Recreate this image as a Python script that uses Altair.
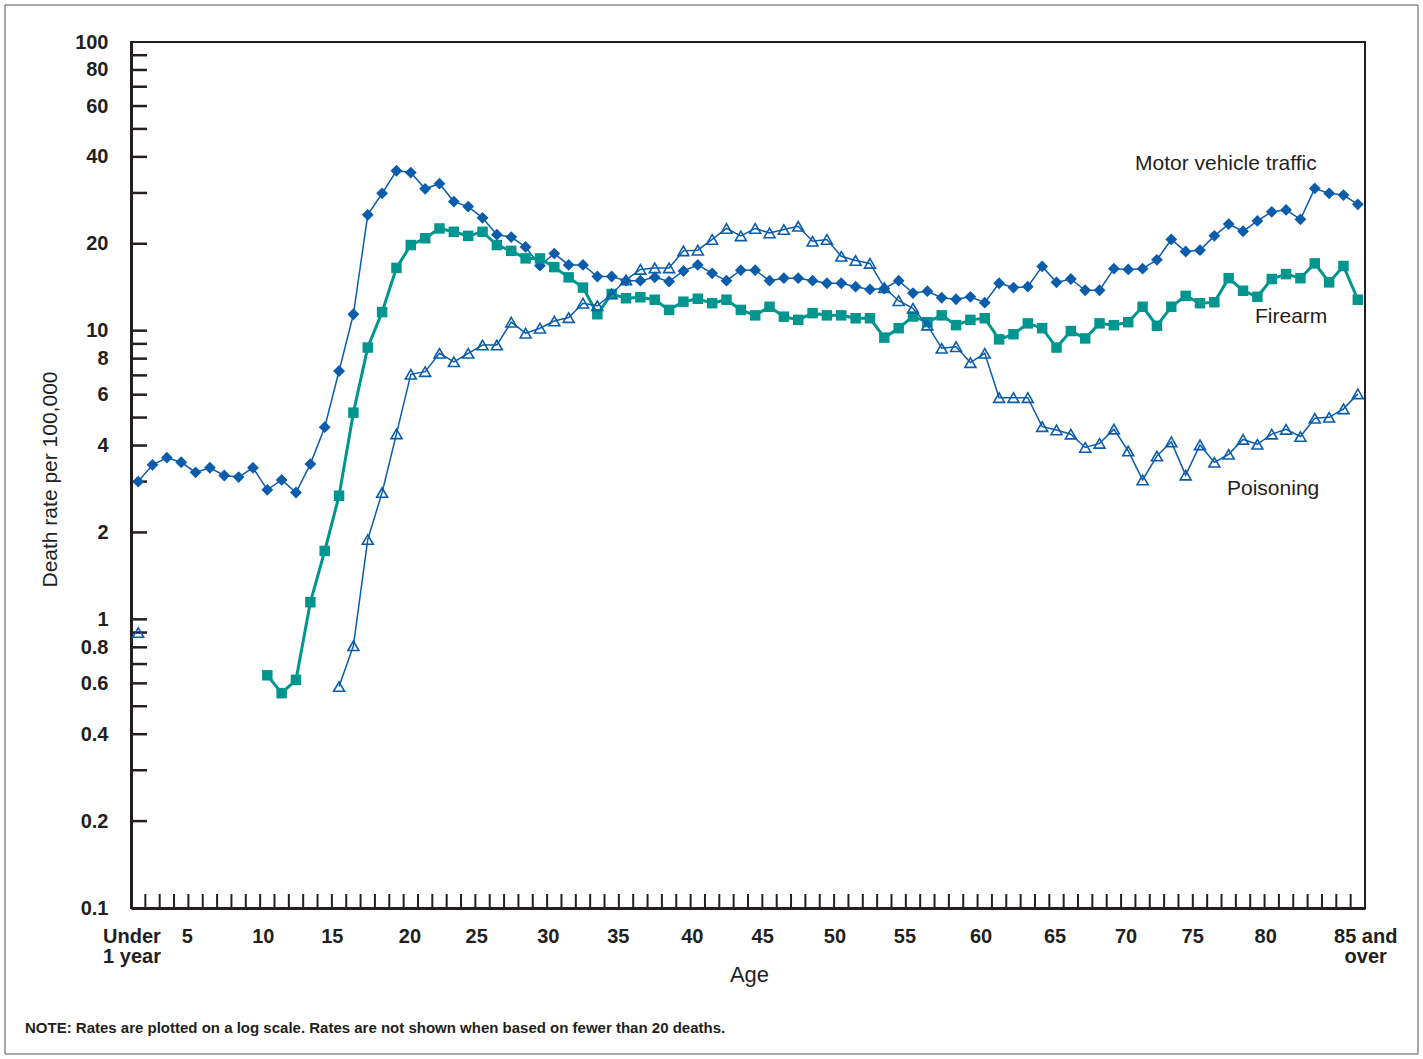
import altair as alt
import pandas as pd

# ---------------- data ----------------
# age index: 0 = "Under 1 year", 1..84 = single years, 85 = "85 and over"
ages = list(range(86))

motor_vehicle = [3.0, 3.43, 3.63, 3.50, 3.23, 3.35, 3.15, 3.11, 3.35, 2.81,
                 3.04, 2.75, 3.45, 4.63, 7.25, 11.4, 25.2, 29.9, 35.8, 35.3,
                 31.0, 32.3, 28.0, 26.9, 24.6, 21.5, 21.1, 19.5, 16.8, 18.5,
                 16.9, 16.9, 15.4, 15.4, 14.9, 14.9, 15.3, 14.8, 16.1, 16.9,
                 15.8, 14.9, 16.2, 16.2, 14.9, 15.2, 15.2, 14.9, 14.6, 14.6,
                 14.2, 13.9, 14.0, 14.9, 13.5, 13.7, 13.0, 12.85, 13.1, 12.5,
                 14.6, 14.1, 14.2, 16.7, 14.7, 15.1, 13.8, 13.8, 16.4, 16.3,
                 16.4, 17.6, 20.7, 18.8, 19.0, 21.3, 23.4, 22.1, 24.0, 25.8,
                 26.2, 24.3, 31.1, 29.9, 29.5, 27.4]

firearm = [None] * 9 + [
    0.64, 0.555, 0.617, 1.146, 1.725, 2.68, 5.2, 8.74, 11.6, 16.5, 19.8,
    20.9, 22.6, 22.0, 21.3, 22.0, 19.8, 18.9, 17.8, 17.8, 16.6,
    15.3, 14.1, 11.4, 13.4, 12.95, 13.05, 12.8, 11.8, 12.6, 12.9,
    12.45, 12.8, 11.8, 11.3, 12.1, 11.18, 10.9, 11.5, 11.3, 11.3,
    11.04, 11.04, 9.46, 10.2, 11.2, 10.7, 11.3, 10.45, 10.9, 11.04,
    9.33, 9.72, 10.6, 10.2, 8.74, 9.97, 9.4, 10.6, 10.45, 10.7,
    12.1, 10.4, 12.1, 13.2, 12.45, 12.55, 15.2, 13.75, 13.1, 15.1,
    15.7, 15.2, 17.1, 14.7, 16.75, 12.8]

poisoning = [0.9] + [None] * 13 + [
    0.585, 0.81, 1.89, 2.75, 4.39, 7.06,
    7.21, 8.35, 7.8, 8.35, 8.92, 8.92, 10.7, 9.8, 10.2, 10.8,
    11.1, 12.45, 12.2, 13.4, 15.0, 16.3, 16.5, 16.5, 18.9, 19.0,
    20.7, 22.6, 21.3, 22.6, 21.8, 22.4, 23.0, 20.4, 20.7, 18.1,
    17.5, 17.1, 14.1, 12.7, 11.96, 10.45, 8.69, 8.8, 7.75, 8.35,
    5.86, 5.86, 5.86, 4.65, 4.53, 4.38, 3.94, 4.07, 4.56, 3.83,
    3.04, 3.68, 4.12, 3.16, 4.02, 3.50, 3.73, 4.2, 4.04, 4.38,
    4.55, 4.3, 4.97, 5.01, 5.36, 6.04]

x_labels = ["Under\n1 year", "5", "10", "15", "20", "25", "30", "35", "40",
            "45", "50", "55", "60", "65", "70", "75", "80", "85 and\nover"]
x_label_pos = [-0.43, 3.42, 8.72, 13.53, 18.94, 23.59, 28.58, 33.46, 38.62,
               43.52, 48.56, 53.44, 58.74, 63.9, 68.85, 73.49, 78.58, 85.55]

y_labels = [0.1, 0.2, 0.4, 0.6, 0.8, 1, 2, 4, 6, 8, 10, 20, 40, 60, 80, 100]
y_ticks = [0.2, 0.3, 0.4, 0.5, 0.6, 0.7, 0.8, 0.9,
           1, 2, 3, 4, 5, 6, 7, 8, 9,
           10, 20, 30, 40, 50, 60, 70, 80, 90]

note = ("NOTE: Rates are plotted on a log scale. Rates are not shown when "
        "based on fewer than 20 deaths.")

# ---------------- build tables ----------------
def series_frame(name, values):
    rows, seg, prev = [], 0, None
    for a, v in zip(ages, values):
        if v is None:
            prev = None
            continue
        if prev is None:
            seg += 1
        rows.append({"age": a, "rate": v, "seg": f"{name}-{seg}"})
        prev = v
    return pd.DataFrame(rows)

df_mv = series_frame("mv", motor_vehicle)
df_fa = series_frame("fa", firearm)
df_po = series_frame("po", poisoning)

df_xt = pd.DataFrame({"age": [a + 0.5 for a in ages[:-1]]})
df_yt = pd.DataFrame({"rate": y_ticks})
df_xl = pd.DataFrame({"age": x_label_pos, "label": x_labels})
df_one = pd.DataFrame({"k": [0]})

# ---------------- styling ----------------
W, H = 1234, 866
FONT = "Liberation Sans"
INK = "#231f20"
BLUE = "#0b5dab"
TEAL = "#00968f"

xscale = alt.Scale(domain=[-0.5, 85.5], nice=False, zero=False)
yscale = alt.Scale(type="log", domain=[0.1, 100], nice=False)

xaxis = alt.Axis(labels=False, ticks=False, grid=False, domain=True,
                 domainWidth=3, domainColor=INK, title="Age",
                 titleFont=FONT, titleFontSize=22, titleFontWeight="normal",
                 titleColor=INK, titleX=618, titleY=73,
                 titleAlign="center", titleBaseline="alphabetic")
yaxis = alt.Axis(values=y_labels, format="~g", labelOverlap=False,
                 ticks=False, grid=False, domain=True, domainWidth=3,
                 domainColor=INK, labelPadding=23, labelFont=FONT,
                 labelFontSize=20, labelFontWeight="bold", labelColor=INK,
                 title="Death rate per 100,000", titleFont=FONT,
                 titleFontSize=21, titleFontWeight="normal", titleColor=INK,
                 titleX=-75, titleY=437, titleAlign="center",
                 titleBaseline="alphabetic", titleAngle=-90)

X = alt.X("age:Q", scale=xscale, axis=xaxis)
Y = alt.Y("rate:Q", scale=yscale, axis=yaxis)

# ---------------- layers ----------------
ytick_layer = alt.Chart(df_yt).mark_rule(color=INK, strokeWidth=2.5).encode(
    y=Y, x=alt.value(0), x2=alt.value(16))

xtick_layer = alt.Chart(df_xt).mark_rule(color=INK, strokeWidth=2).encode(
    x=X, y=alt.value(H - 14), y2=alt.value(H))

xlabel_layer = alt.Chart(df_xl).mark_text(
    font=FONT, fontSize=20, fontWeight="bold", color=INK, align="center",
    baseline="alphabetic", lineBreak="\n", lineHeight=20).encode(
    x=X, y=alt.value(H + 35), text="label:N")

mv_line = alt.Chart(df_mv).mark_line(color=BLUE, strokeWidth=1.5).encode(
    x=X, y=Y, detail="seg:N")
mv_pts = alt.Chart(df_mv).mark_point(shape="diamond", filled=True, size=140,
                                      color=BLUE, opacity=1).encode(x=X, y=Y)

fa_line = alt.Chart(df_fa).mark_line(color=TEAL, strokeWidth=3).encode(
    x=X, y=Y, detail="seg:N")
fa_pts = alt.Chart(df_fa).mark_point(shape="square", filled=True, size=110,
                                      color=TEAL, opacity=1).encode(x=X, y=Y)

po_line = alt.Chart(df_po).mark_line(color=BLUE, strokeWidth=1.5).encode(
    x=X, y=Y, detail="seg:N")
po_pts = alt.Chart(df_po).mark_point(shape="triangle-up", filled=False,
                                      size=120, color=BLUE, strokeWidth=1.6,
                                      opacity=1).encode(x=X, y=Y)

label_style = dict(font=FONT, fontSize=21, color=INK, align="left",
                   baseline="alphabetic")
lab_mv = alt.Chart(df_one).mark_text(text="Motor vehicle traffic",
                                     **label_style).encode(
    x=alt.value(1004), y=alt.value(128))
lab_fa = alt.Chart(df_one).mark_text(text="Firearm", **label_style).encode(
    x=alt.value(1124), y=alt.value(281))
lab_po = alt.Chart(df_one).mark_text(text="Poisoning", **label_style).encode(
    x=alt.value(1096), y=alt.value(453))

note_layer = alt.Chart(df_one).mark_text(
    text=note, font=FONT, fontSize=15, fontWeight="bold", color=INK,
    align="left", baseline="alphabetic").encode(
    x=alt.value(-106), y=alt.value(991))

frame = alt.Chart(df_one).mark_rect(fill=None, fillOpacity=0, stroke="#555555",
                                    strokeWidth=1).encode(
    x=alt.value(-126), x2=alt.value(1287), y=alt.value(-37),
    y2=alt.value(1012))

chart = alt.layer(
    frame, ytick_layer, xtick_layer, xlabel_layer,
    mv_line, mv_pts, fa_line, fa_pts, po_line, po_pts,
    lab_mv, lab_fa, lab_po, note_layer,
).properties(
    width=W, height=H,
    autosize=alt.AutoSizeParams(type="none"),
    padding={"left": 131, "top": 42, "right": 58, "bottom": 151},
    background="white",
).configure_view(stroke=INK, strokeWidth=2)

chart.save("out.html", embed_options={"renderer": "svg", "actions": False})
